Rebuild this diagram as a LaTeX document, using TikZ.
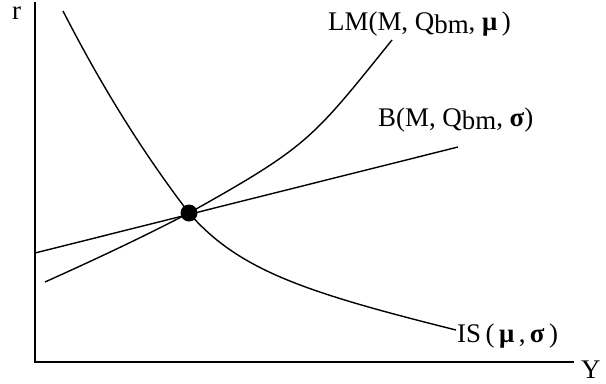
\documentclass[tikz,border=0pt]{standalone}
\usepackage{fontspec}
\setmainfont{Liberation Serif}
\begin{document}
\begin{tikzpicture}[x=1bp,y=-1bp,
  curve/.style={line width=1.4bp, line join=round},
  axis/.style={line width=1.8bp},
  lbl/.style={inner sep=0pt, anchor=base west, font=\fontsize{27}{30}\selectfont},
  eqdot/.style={circle, fill=black, inner sep=0pt, minimum size=17bp}]
\useasboundingbox (0,0) rectangle (606,383);
% axes
\coordinate (O) at (35,362);
\coordinate (Ytop) at (35,2);
\coordinate (Xend) at (574,362);
\draw[axis] (Ytop) -- (O) -- (Xend);
\node[lbl] (r) at (12,19) {r};
\node[lbl] (Y) at (581,378) {Y};
% labels
\node[lbl] (LM) at (328,30) {LM(M, Q\raisebox{-3bp}{bm}, \textbf{μ}\,)};
\node[lbl] (B) at (378,126) {B(M, Q\raisebox{-3bp}{bm}, \textbf{σ})};
\node[lbl] (IS) at (457,342) {IS\,(\,\textbf{μ}\,,\,\textbf{σ}\,)};
% equilibrium
\coordinate (E) at (189,213);
% IS curve
\coordinate (isTop) at (63,11);
\coordinate (isEnd) at (456,330);
\draw[curve] (isTop) .. controls (105,93) and (147,158) .. (E)
             .. controls (239,270.5) and (306,292.5) .. (isEnd);
% LM curve
\coordinate (lmStart) at (45,282);
\coordinate (lmEnd) at (392,40);
\draw[curve] (lmStart) .. controls (93,260.4) and (141,238) .. (E)
             .. controls (309,145.8) and (312,139.2) .. (lmEnd);
% B line
\coordinate (bStart) at (35,253);
\coordinate (bEnd) at (458,147);
\draw[curve] (bStart) -- (bEnd);
\node[eqdot] (eq) at (E) {};
\end{tikzpicture}
\end{document}
